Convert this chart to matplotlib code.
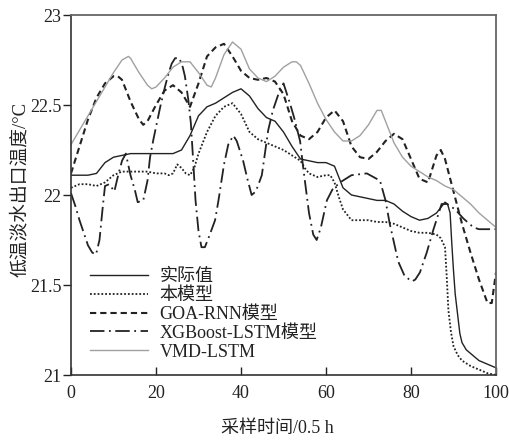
import matplotlib
matplotlib.use("Agg")
import matplotlib.pyplot as plt

plt.rcParams['font.family'] = ['Liberation Serif', 'Noto Sans CJK SC', 'DejaVu Sans']

# ---------------- data ----------------
labels = ["实际值", "本模型", "GOA-RNN模型", "XGBoost-LSTM模型", "VMD-LSTM"]

x_act = [0, 2, 4, 6, 8, 10, 12, 14, 16, 18, 20, 22, 24, 26, 28, 30, 32, 34, 36, 38,
         40, 42, 44, 46, 48, 50, 52, 54, 56, 58, 60, 62, 63, 64, 66, 68, 70, 72, 74, 76,
         78, 80, 82, 84, 86, 87, 88, 88.6, 89.2, 89.6, 90, 90.4, 91, 91.5, 92, 93, 94,
         96, 98, 100]
y_act = [22.11, 22.11, 22.11, 22.12, 22.18, 22.21, 22.22, 22.23, 22.23, 22.23, 22.23,
         22.23, 22.23, 22.25, 22.33, 22.44, 22.49, 22.51, 22.54, 22.57, 22.59, 22.55,
         22.48, 22.43, 22.41, 22.35, 22.27, 22.20, 22.19, 22.18, 22.18, 22.16, 22.10,
         22.04, 22.00, 21.99, 21.98, 21.97, 21.97, 21.95, 21.91, 21.88, 21.86, 21.87,
         21.90, 21.93, 21.96, 21.95, 21.90, 21.73, 21.58, 21.45, 21.33, 21.23, 21.18,
         21.14, 21.12, 21.08, 21.06, 21.04]

x_ben = [0, 2, 4, 6, 8, 10, 12, 14, 16, 18, 20, 22, 23, 24, 25, 26, 27, 28, 29, 30, 32,
         34, 36, 38, 40, 42, 44, 46, 48, 50, 52, 54, 55, 56, 58, 60, 61, 62, 63, 64, 66,
         68, 70, 72, 74, 76, 78, 80, 82, 84, 86, 87, 88, 88.4, 88.8, 89.4, 90, 91, 92,
         94, 96, 98, 100]
y_ben = [22.04, 22.06, 22.06, 22.05, 22.07, 22.11, 22.13, 22.13, 22.13, 22.13, 22.12,
         22.12, 22.11, 22.12, 22.17, 22.15, 22.12, 22.11, 22.15, 22.23, 22.35, 22.44,
         22.49, 22.51, 22.45, 22.35, 22.31, 22.29, 22.27, 22.25, 22.22, 22.19, 22.15,
         22.12, 22.10, 22.11, 22.11, 22.07, 21.99, 21.92, 21.86, 21.86, 21.86, 21.85,
         21.85, 21.84, 21.82, 21.80, 21.79, 21.79, 21.78, 21.76, 21.71, 21.55, 21.36,
         21.24, 21.16, 21.11, 21.08, 21.05, 21.03, 21.01, 21.00]

x_goa = [0, 2, 4, 6, 8, 10, 11, 12, 14, 16, 17, 18, 20, 22, 24, 26, 28, 30, 32, 34, 36,
         38, 40, 42, 44, 46, 48, 50, 52, 54, 56, 58, 60, 62, 64, 66, 68, 70, 72, 74, 76,
         78, 80, 82, 84, 86, 87, 88, 90, 92, 94, 96, 98, 99, 100]
y_goa = [22.12, 22.27, 22.42, 22.54, 22.62, 22.66, 22.66, 22.64, 22.52, 22.42, 22.39,
         22.41, 22.50, 22.58, 22.61, 22.57, 22.49, 22.62, 22.77, 22.82, 22.84, 22.77,
         22.69, 22.65, 22.64, 22.65, 22.63, 22.56, 22.41, 22.33, 22.31, 22.35, 22.43,
         22.47, 22.41, 22.27, 22.21, 22.20, 22.24, 22.30, 22.34, 22.31, 22.20, 22.09,
         22.07, 22.22, 22.25, 22.20, 22.02, 21.84, 21.68, 21.53, 21.40, 21.40, 21.57]

x_xgb = [0, 1, 2, 3, 4, 5, 5.9, 6.7, 7.5, 8, 9, 10.2, 11, 12, 12.9, 14, 15, 15.7, 17, 18,
         18.6, 19.4, 20.2, 21, 22.1, 23, 23.7, 24.5, 25.5, 26.3, 26.8, 27.6, 28.2, 28.8,
         29.3, 30, 30.7, 31.5, 32.5, 33.9, 34.7, 36, 37, 38.2, 39, 40.5, 41.5, 42.5, 43.5,
         44.9, 46.4, 47.5, 48.8, 50, 51.5, 52.5, 53.9, 54.7, 56, 57, 57.8, 58.8, 60.2,
         61.5, 63.3, 66, 69.6, 72.7, 74, 75, 77, 78.5, 80.2, 81, 82.1, 83.7, 85.3, 87.2,
         88.5, 90.4, 92.3, 94.7, 96, 100]
y_xgb = [22.01, 21.94, 21.86, 21.79, 21.72, 21.68, 21.67, 21.75, 21.94, 22.05, 22.06,
         22.02, 22.10, 22.19, 22.23, 22.11, 22.03, 21.96, 21.97, 22.08, 22.21, 22.31,
         22.40, 22.49, 22.60, 22.68, 22.73, 22.76, 22.76, 22.71, 22.66, 22.53, 22.40,
         22.17, 21.97, 21.80, 21.71, 21.71, 21.77, 21.86, 21.97, 22.17, 22.28, 22.33,
         22.30, 22.19, 22.09, 22.00, 22.02, 22.11, 22.36, 22.47, 22.56, 22.62, 22.51,
         22.43, 22.30, 22.14, 21.90, 21.78, 21.75, 21.82, 21.97, 22.03, 22.07, 22.11,
         22.12, 22.08, 21.97, 21.84, 21.63, 21.55, 21.52, 21.53, 21.57, 21.68, 21.81,
         21.95, 21.95, 21.92, 21.87, 21.82, 21.81, 21.81]

x_vmd = [0, 2, 4, 6, 8, 10, 12, 13.5, 14, 16, 18, 19, 20, 22, 24, 26, 28, 30, 32, 33, 34,
         36, 38, 40, 42, 44, 46, 48, 50, 52, 53, 54, 56, 58, 60, 62, 64, 66, 68, 70, 72,
         73, 74, 76, 78, 80, 82, 84, 86, 88, 90, 92, 94, 96, 98, 100]
y_vmd = [22.28, 22.36, 22.44, 22.52, 22.60, 22.68, 22.75, 22.77, 22.76, 22.68, 22.61,
         22.59, 22.60, 22.65, 22.71, 22.74, 22.74, 22.68, 22.61, 22.60, 22.65, 22.78,
         22.85, 22.81, 22.70, 22.65, 22.63, 22.66, 22.71, 22.74, 22.74, 22.72, 22.62,
         22.51, 22.42, 22.35, 22.30, 22.30, 22.33, 22.39, 22.47, 22.47, 22.41, 22.29,
         22.21, 22.16, 22.13, 22.10, 22.08, 22.05, 22.03, 21.99, 21.95, 21.90, 21.86,
         21.82]

x_ticks = [0, 20, 40, 60, 80, 100]
y_ticks = [21, 21.5, 22, 22.5, 23]
y_ticklabels = ["21", "21.5", "22", "22.5", "23"]

# ---------------- figure ----------------
fig = plt.figure(figsize=(5.09, 4.41), dpi=100)
ax = fig.add_axes([71 / 509, 1 - 375 / 441, 425 / 509, 360 / 441])

ax.plot(x_act, y_act, color="#222222", lw=1.0, ls="-", label=labels[0])
ax.plot(x_ben, y_ben, color="#222222", lw=1.3, ls=(0, (1, 1.1)), label=labels[1])
ax.plot(x_goa, y_goa, color="#222222", lw=1.5, ls=(0, (3.0, 1.9)), label=labels[2])
ax.plot(x_xgb, y_xgb, color="#222222", lw=1.3, ls=(0, (8, 2.5, 1, 2.5)), label=labels[3])
ax.plot(x_vmd, y_vmd, color="#a0a0a0", lw=1.0, ls="-", label=labels[4])

ax.set_xlim(0, 100)
ax.set_ylim(21, 23)
ax.set_xticks(x_ticks)
ax.set_yticks(y_ticks)
ax.set_yticklabels(y_ticklabels)
ax.tick_params(axis="x", direction="in", length=6, width=1, labelsize=13, pad=7, colors="#222222")
ax.tick_params(axis="y", direction="out", length=6, width=1, labelsize=13, pad=1, colors="#222222")

for s in ["left", "bottom"]:
    ax.spines[s].set_color("#333333")
    ax.spines[s].set_linewidth(1.2)
for s in ["top", "right"]:
    ax.spines[s].set_color("#666666")
    ax.spines[s].set_linewidth(1.3)

ax.set_xlabel("采样时间/0.5 h", fontsize=13, color="#222222")
ax.xaxis.set_label_coords((277 - 71) / 425, -(420 - 375) / 360)
ax.set_ylabel("低温淡水出口温度/°C", fontsize=13.5, color="#222222")
ax.yaxis.set_label_coords(-(71 - 29) / 425, (375 - 189) / 360)

leg = ax.legend(loc="lower left", bbox_to_anchor=(0.045, 0.04), frameon=False,
                fontsize=13, handlelength=3.2, handletextpad=0.65, labelspacing=0.1,
                borderaxespad=0, borderpad=0)
for t in leg.get_texts():
    t.set_color("#222222")

fig.savefig("out.png", dpi=100)
